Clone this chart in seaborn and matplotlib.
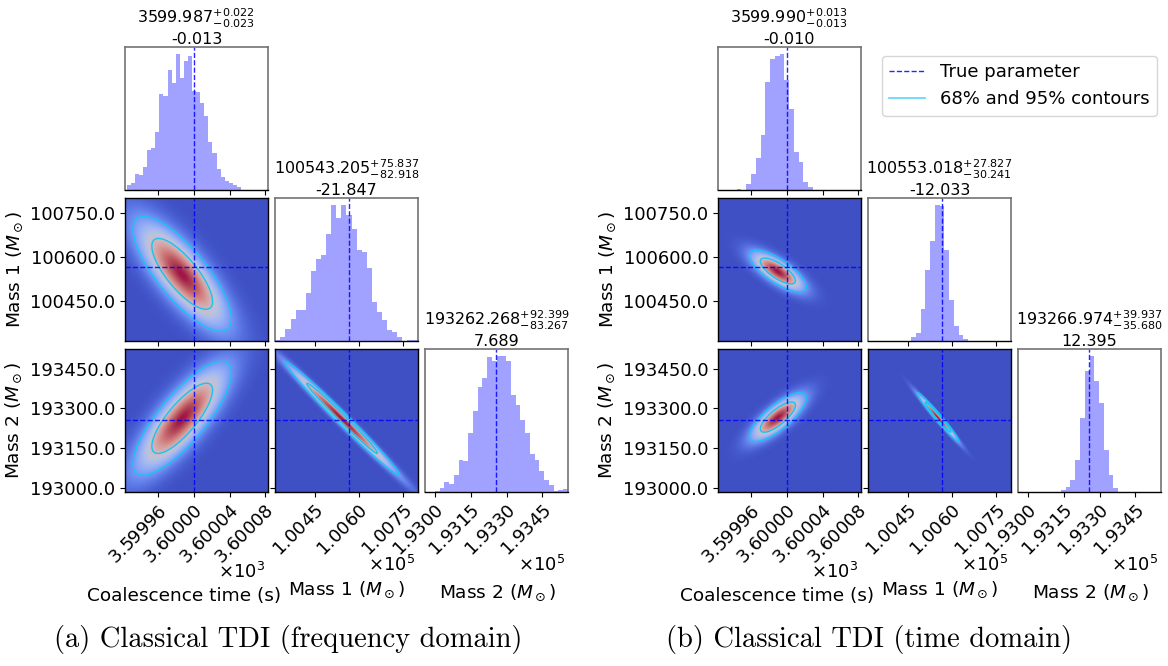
import numpy as np
import pandas as pd
import matplotlib
matplotlib.use("Agg")
import matplotlib.pyplot as plt
import seaborn as sns
from matplotlib.lines import Line2D
from matplotlib.colors import ListedColormap, PowerNorm
from matplotlib.ticker import ScalarFormatter, FormatStrFormatter

# ---------------- data ----------------
param_labels = ["Coalescence time (s)", "Mass 1 ($M_\\odot$)", "Mass 2 ($M_\\odot$)"]
true_params = [3600.000, 100565.052, 193254.579]
captions = ["(a) Classical TDI (frequency domain)", "(b) Classical TDI (time domain)"]

t_ticks = [3599.96, 3600.00, 3600.04, 3600.08]
m1_ticks = [100450, 100600, 100750]
m2_ticks = [193000, 193150, 193300, 193450]
offset_exponents = [3, 5, 5]

t_range = [3599.923, 3600.083]
m1_range = [100316, 100800]
m2_range = [192984, 193524]
m2_hist_range = [192958, 193558]

# panel (a): frequency domain
a_median = [3599.987, 100543.205, 193262.268]
a_err_plus = [0.022, 75.837, 92.399]
a_err_minus = [0.023, 82.918, 83.267]
a_bias = [-0.013, -21.847, 7.689]
a_corr = [-0.78, 0.80, -0.99]          # (t,m1), (t,m2), (m1,m2)
a_t_bin_start, a_t_bin_width = 3599.9249, 0.004568
a_t_counts = [14, 21, 48, 44, 69, 120, 126, 174, 288, 283, 360, 321, 408, 336,
              387, 401, 297, 294, 260, 223, 144, 111, 63, 39, 27, 21, 16, 9]
a_m1_bin_start, a_m1_bin_width = 100317.0, 17.2
a_m1_counts = [4, 12, 36, 66, 93, 93, 144, 210, 246, 261, 324, 411, 372, 411,
               381, 339, 276, 270, 219, 117, 87, 63, 33, 27, 13, 1, 2, 2]
a_m2_bin_start, a_m2_bin_width = 192959.0, 19.95
a_m2_counts = [1, 1, 2, 12, 30, 24, 51, 96, 93, 177, 243, 318, 345, 408, 396,
               411, 411, 396, 294, 264, 216, 177, 114, 96, 62, 36, 21, 3, 6, 9]

# panel (b): time domain
b_median = [3599.990, 100553.018, 193266.974]
b_err_plus = [0.013, 27.827, 39.937]
b_err_minus = [0.013, 30.241, 35.680]
b_bias = [-0.010, -12.033, 12.395]
b_corr = [-0.75, 0.78, -0.98]
b_t_bin_start, b_t_bin_width = 3599.9439, 0.00534
b_t_counts = [3, 1, 18, 48, 96, 165, 324, 393, 402, 408, 330, 243, 114, 84, 24, 9]
b_m1_bin_start, b_m1_bin_width = 100461.5, 16.1
b_m1_counts = [12, 24, 96, 213, 300, 408, 405, 273, 123, 45, 18, 6]
b_m2_bin_start, b_m2_bin_width = 193138.0, 20.0
b_m2_counts = [6, 15, 36, 96, 222, 366, 411, 336, 270, 127, 50, 12]

# ---------------- style ----------------
plt.rcParams['font.family'] = ['DejaVu Sans']
plt.rcParams['mathtext.fontset'] = 'dejavusans'

W, H = 1168, 666
fig = plt.figure(figsize=(W / 100, H / 100), dpi=100)

TICK_FS = 13
LABEL_FS = 13.3
TITLE_FS = 11.5
HIST_COLOR = 'blue'
HIST_ALPHA = 0.37
TRUE_KW = dict(color='blue', ls='--', lw=1.0, alpha=0.85)
CONTOUR_COLOR = '#16c4f5'

# coolwarm blended over the blue panel background
bg = np.array([80, 93, 213]) / 255.0
base = plt.get_cmap('coolwarm')(np.linspace(0, 1, 256))
base[:, :3] = base[:, :3] * 0.8 + bg * 0.2
dens_cmap = ListedColormap(base)

ranges = [t_range, m1_range, m2_range]
ticks = [t_ticks, m1_ticks, m2_ticks]

# x-label anchor (axes fraction, baseline) and offset-text anchor per column
xlabel_pos = [(0.413, -0.762), (0.50, -0.72), (0.51, -0.74)]
offset_pos = [(0.979, -0.56), (0.979, -0.51), (0.979, -0.51)]

panels = [
    dict(x0=125, median=a_median, plus=a_err_plus, minus=a_err_minus, bias=a_bias, corr=a_corr,
         hists=[(a_t_bin_start, a_t_bin_width, a_t_counts),
                (a_m1_bin_start, a_m1_bin_width, a_m1_counts),
                (a_m2_bin_start, a_m2_bin_width, a_m2_counts)]),
    dict(x0=718, median=b_median, plus=b_err_plus, minus=b_err_minus, bias=b_bias, corr=b_corr,
         hists=[(b_t_bin_start, b_t_bin_width, b_t_counts),
                (b_m1_bin_start, b_m1_bin_width, b_m1_counts),
                (b_m2_bin_start, b_m2_bin_width, b_m2_counts)]),
]

AX_W, AX_H = 143, 143
COL_STEP, ROW_STEP = 150, 151
TOP0 = 47


def make_ax(px, py):
    return fig.add_axes([px / W, 1 - (py + AX_H) / H, AX_W / W, AX_H / H])


def sci_formatter():
    f = ScalarFormatter(useMathText=True, useOffset=False)
    f.set_powerlimits((0, 0))
    return f


pair_corr_index = {(1, 0): 0, (2, 0): 1, (2, 1): 2}

for p in panels:
    sig = [(a + b) / 2 for a, b in zip(p['plus'], p['minus'])]
    for row in range(3):
        for col in range(row + 1):
            ax = make_ax(p['x0'] + col * COL_STEP, TOP0 + row * ROW_STEP)
            for s in ax.spines.values():
                s.set_linewidth(1.0)
            if row == col:
                start, width, counts = p['hists'][col]
                counts = np.asarray(counts, float)
                edges = start + width * np.arange(len(counts) + 1)
                df = pd.DataFrame({"x": 0.5 * (edges[:-1] + edges[1:]), "w": counts})
                sns.histplot(data=df, x="x", weights="w", bins=list(edges), ax=ax,
                             color=HIST_COLOR, alpha=HIST_ALPHA, linewidth=0)
                ax.axvline(true_params[col], **TRUE_KW)
                ax.set_xlim(m2_hist_range if col == 2 else ranges[col])
                ax.set_yticks([])
                ax.set_ylabel('')
                for side in ('left', 'right', 'top'):
                    ax.spines[side].set_color('0.45')
                    ax.spines[side].set_linewidth(1.2)
                ax.set_title(f"{p['median'][col]:.3f}${{}}^{{+{p['plus'][col]:.3f}}}_{{-{p['minus'][col]:.3f}}}$\n"
                             f"{p['bias'][col]:.3f}", fontsize=TITLE_FS, pad=2)
            else:
                xr, yr = ranges[col], ranges[row]
                xs = np.linspace(xr[0], xr[1], 260)
                ys = np.linspace(yr[0], yr[1], 260)
                X, Y = np.meshgrid(xs, ys)
                rho = p['corr'][pair_corr_index[(row, col)]]
                dx = (X - p['median'][col]) / sig[col]
                dy = (Y - p['median'][row]) / sig[row]
                Z = np.exp(-0.5 / (1 - rho ** 2) * (dx ** 2 - 2 * rho * dx * dy + dy ** 2))
                ax.pcolormesh(X, Y, Z, cmap=dens_cmap, norm=PowerNorm(0.5, vmin=0, vmax=1),
                              shading='gouraud', rasterized=True)
                ax.contour(X, Y, Z, levels=[0.05, 0.32], colors=CONTOUR_COLOR, linewidths=1.0)
                ax.axvline(true_params[col], **TRUE_KW)
                ax.axhline(true_params[row], **TRUE_KW)
                ax.set_xlim(xr)
                ax.set_ylim(yr)
                ax.set_yticks(ticks[row])
                if col == 0:
                    ax.yaxis.set_major_formatter(FormatStrFormatter('%.1f'))
                    ax.tick_params(axis='y', labelsize=TICK_FS)
                    ax.set_ylabel(param_labels[row], fontsize=LABEL_FS)
                else:
                    ax.tick_params(axis='y', labelleft=False)
            ax.set_xticks(ticks[col])
            if row == 2:
                ax.xaxis.set_major_formatter(sci_formatter())
                ax.tick_params(axis='x', labelsize=TICK_FS)
                for lab in ax.get_xticklabels():
                    lab.set_rotation(45)
                    lab.set_ha('right')
                    lab.set_rotation_mode('anchor')
                ax.xaxis.get_offset_text().set_visible(False)
                ox, oy = offset_pos[col]
                ax.text(ox, oy, r"$\times\mathdefault{10^{%d}}$" % offset_exponents[col],
                        transform=ax.transAxes, ha='right', va='center', fontsize=TICK_FS)
                ax.set_xlabel(param_labels[col], fontsize=LABEL_FS)
                lx, ly = xlabel_pos[col]
                ax.xaxis.set_label_coords(lx, ly)
                ax.xaxis.label.set_va('baseline')
            else:
                ax.tick_params(axis='x', labelbottom=False)
                ax.set_xlabel('')

# legend
handles = [Line2D([], [], **TRUE_KW),
           Line2D([], [], color=CONTOUR_COLOR, lw=1.2, alpha=0.7)]
fig.legend(handles, ["True parameter", "68% and 95% contours"], loc='upper left',
           bbox_to_anchor=(873 / W, 1 - 47 / H), fontsize=13, frameon=True)

# captions
fig.text(288 / W, 1 - 639 / H, captions[0], ha='center', va='center', fontfamily='cmr10', fontsize=20.5)
fig.text(869 / W, 1 - 639 / H, captions[1], ha='center', va='center', fontfamily='cmr10', fontsize=20.5)

fig.savefig("out.png", dpi=100)
